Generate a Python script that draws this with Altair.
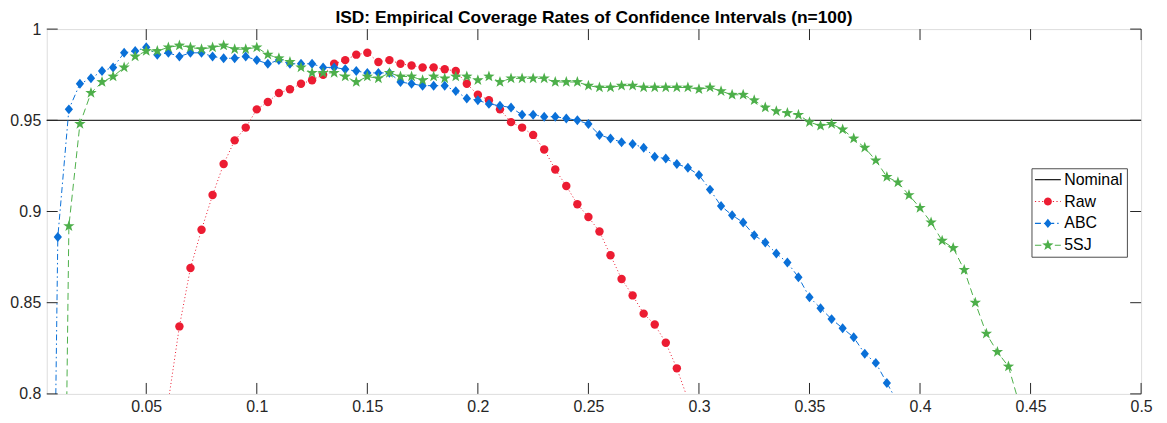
import math
import altair as alt
import pandas as pd

# ---------------- data ----------------
x_grid = [0.005, 0.01, 0.015, 0.02, 0.025, 0.03, 0.035, 0.04, 0.045, 0.05,
          0.055, 0.06, 0.065, 0.07, 0.075, 0.08, 0.085, 0.09, 0.095, 0.1,
          0.105, 0.11, 0.115, 0.12, 0.125, 0.13, 0.135, 0.14, 0.145, 0.15,
          0.155, 0.16, 0.165, 0.17, 0.175, 0.18, 0.185, 0.19, 0.195, 0.2,
          0.205, 0.21, 0.215, 0.22, 0.225, 0.23, 0.235, 0.24, 0.245, 0.25,
          0.255, 0.26, 0.265, 0.27, 0.275, 0.28, 0.285, 0.29, 0.295, 0.3,
          0.305, 0.31, 0.315, 0.32, 0.325, 0.33, 0.335, 0.34, 0.345, 0.35,
          0.355, 0.36, 0.365, 0.37, 0.375, 0.38, 0.385, 0.39, 0.395, 0.4,
          0.405, 0.41, 0.415, 0.42, 0.425, 0.43, 0.435, 0.44, 0.445]

raw_start = 0.06
raw_vals = [0.796, 0.837, 0.869, 0.890, 0.909, 0.926, 0.939, 0.946, 0.956, 0.960,
            0.965, 0.967, 0.970, 0.972, 0.975, 0.981, 0.983, 0.986, 0.987, 0.982,
            0.983, 0.981, 0.980, 0.979, 0.979, 0.978, 0.977, 0.970, 0.964, 0.961,
            0.956, 0.949, 0.946, 0.942, 0.934, 0.923, 0.914, 0.904, 0.897, 0.889,
            0.876, 0.863, 0.854, 0.844, 0.838, 0.828, 0.814, 0.797]

abc_start = 0.005
abc_vals = [0.41, 0.886, 0.956, 0.970, 0.973, 0.977, 0.979, 0.987, 0.988, 0.990,
            0.986, 0.987, 0.985, 0.987, 0.987, 0.985, 0.984, 0.984, 0.985, 0.983,
            0.981, 0.983, 0.981, 0.981, 0.981, 0.979, 0.979, 0.978, 0.977, 0.976,
            0.976, 0.976, 0.971, 0.970, 0.969, 0.969, 0.969, 0.966, 0.962, 0.961,
            0.959, 0.958, 0.957, 0.953, 0.953, 0.952, 0.952, 0.951, 0.950, 0.948,
            0.942, 0.940, 0.938, 0.937, 0.935, 0.930, 0.929, 0.926, 0.924, 0.920,
            0.912, 0.903, 0.898, 0.894, 0.887, 0.883, 0.877, 0.872, 0.864, 0.853,
            0.847, 0.841, 0.836, 0.831, 0.822, 0.817, 0.806, 0.795]

sj_start = 0.01
sj_vals = [0.39, 0.892, 0.948, 0.965, 0.971, 0.974, 0.979, 0.985, 0.988, 0.988,
           0.990, 0.991, 0.990, 0.989, 0.990, 0.991, 0.989, 0.989, 0.990, 0.986,
           0.984, 0.982, 0.979, 0.976, 0.976, 0.976, 0.974, 0.971, 0.974, 0.973,
           0.976, 0.974, 0.974, 0.972, 0.974, 0.973, 0.974, 0.974, 0.972, 0.974,
           0.971, 0.973, 0.973, 0.973, 0.973, 0.971, 0.971, 0.971, 0.969, 0.968,
           0.968, 0.969, 0.969, 0.968, 0.968, 0.968, 0.968, 0.968, 0.967, 0.968,
           0.966, 0.964, 0.964, 0.961, 0.957, 0.955, 0.954, 0.953, 0.949, 0.947,
           0.948, 0.945, 0.940, 0.935, 0.928, 0.919, 0.916, 0.909, 0.902, 0.894,
           0.884, 0.880, 0.868, 0.850, 0.833, 0.823, 0.815, 0.794]

nominal_level = 0.95
series_names = ["Nominal", "Raw", "ABC", "5SJ"]
x_ticks = [0.05, 0.1, 0.15, 0.2, 0.25, 0.3, 0.35, 0.4, 0.45, 0.5]
y_ticks = [0.8, 0.85, 0.9, 0.95, 1.0]
title_text = "ISD: Empirical Coverage Rates of Confidence Intervals (n=100)"


def make_df(start, vals):
    i0 = x_grid.index(start)
    xs = x_grid[i0:i0 + len(vals)]
    assert len(xs) == len(vals)
    return pd.DataFrame({"x": xs, "y": vals})


raw_df = make_df(raw_start, raw_vals)
abc_df = make_df(abc_start, abc_vals)
sj_df = make_df(sj_start, sj_vals)

# ---------------- styles ----------------
W, H = 1101, 367
RED, BLUE, GREEN = "#EC1C32", "#0A70D8", "#4DAF4A"
AX = "#262626"
FONT = "Liberation Sans"
TICK = 11

xs = alt.Scale(domain=[0.005, 0.5], nice=False, zero=False)
ys = alt.Scale(domain=[0.8, 1.0], nice=False, zero=False)


def star_path(cx=0.0, R=1.5, r=0.6):
    pts = []
    for k in range(10):
        a = math.radians(-90 + 36 * k)
        rad = R if k % 2 == 0 else r
        pts.append((cx + rad * math.cos(a), rad * math.sin(a)))
    return "M" + "L".join(f"{px:.3f},{py:.3f}" for px, py in pts) + "Z"


def diamond_path(cx=0.0, hw=0.95, hh=1.15):
    return f"M{cx},{-hh}L{cx + hw},0L{cx},{hh}L{cx - hw},0Z"


def circle_path(cx=0.0, r=1.0, n=20):
    pts = [(cx + r * math.cos(2 * math.pi * k / n), r * math.sin(2 * math.pi * k / n)) for k in range(n)]
    return "M" + "L".join(f"{px:.3f},{py:.3f}" for px, py in pts) + "Z"


# legend symbol = line segment (with dash pattern) + marker, unit = 4px
L0, L1, MC = -2.0, 4.5, 1.25
HW = 0.14


def line_pieces(pattern, gap_lo, gap_hi):
    out = []
    pos = L0
    k = 0
    while pos < L1:
        seg = pattern[k % len(pattern)]
        on = (k % 2 == 0)
        a, b = pos, min(pos + seg, L1)
        if on:
            for (s, e) in [(a, min(b, gap_lo)), (max(a, gap_hi), b)]:
                if e - s > 0.01:
                    out.append(f"M{s:.3f},{-HW}L{e:.3f},{-HW}L{e:.3f},{HW}L{s:.3f},{HW}Z")
        pos += seg
        k += 1
    return "".join(out)


leg_nominal = line_pieces([10, 0], 99, 99)
leg_raw = line_pieces([0.3, 0.6], MC - 0.9, MC + 0.9) + circle_path(MC, 1.0)
leg_abc = line_pieces([1.5, 0.75, 0.35, 0.75], MC - 0.9, MC + 0.9) + diamond_path(MC)
leg_sj = line_pieces([1.6, 0.9], MC - 1.2, MC + 1.2) + star_path(MC)

# ---------------- layers ----------------
x_enc = alt.X("x:Q", scale=xs,
              axis=alt.Axis(values=x_ticks, format="~g", title=None, grid=False, domain=False,
                            ticks=False, labelPadding=5, labelFontSize=16, labelFont=FONT,
                            labelColor=AX, labelFlush=False))
y_enc = alt.Y("y:Q", scale=ys,
              axis=alt.Axis(values=y_ticks, format="~g", title=None, grid=False, domain=False,
                            ticks=False, labelPadding=6, labelFontSize=16, labelFont=FONT,
                            labelColor=AX, labelFlush=False))


def series_layers(df, color, dash, shape, size):
    base = alt.Chart(df)
    line = base.mark_line(color=color, strokeWidth=1, strokeDash=dash, clip=True).encode(x=x_enc, y=y_enc)
    pts = base.mark_point(color=color, filled=True, opacity=1, shape=shape, size=size,
                          strokeWidth=0.5, clip=True).encode(x="x:Q", y="y:Q")
    return [line, pts]


nominal = alt.Chart(pd.DataFrame({"y": [nominal_level]})).mark_rule(color="black", strokeWidth=1).encode(
    y=alt.Y("y:Q", scale=ys))

layers = [nominal]
layers += series_layers(raw_df, RED, [1, 2.5], "circle", 72)
layers += series_layers(abc_df, BLUE, [6, 3, 1.5, 3], diamond_path(), 76)
layers += series_layers(sj_df, GREEN, [7, 4], star_path(), 64)

xt = pd.DataFrame({"x": x_ticks})
yt = pd.DataFrame({"y": y_ticks})
tick_layers = [
    alt.Chart(xt).mark_rule(color=AX, strokeWidth=1).encode(x=alt.X("x:Q", scale=xs), y=alt.value(H), y2=alt.value(H - TICK)),
    alt.Chart(xt).mark_rule(color=AX, strokeWidth=1).encode(x=alt.X("x:Q", scale=xs), y=alt.value(0), y2=alt.value(TICK)),
    alt.Chart(yt).mark_rule(color=AX, strokeWidth=1).encode(y=alt.Y("y:Q", scale=ys), x=alt.value(0), x2=alt.value(TICK)),
    alt.Chart(yt).mark_rule(color=AX, strokeWidth=1).encode(y=alt.Y("y:Q", scale=ys), x=alt.value(W), x2=alt.value(W - TICK)),
]

# title as a text mark placed above the plot frame
title_layer = alt.Chart(pd.DataFrame({"t": [title_text]})).mark_text(
    font=FONT, fontSize=17.5, fontWeight="bold", color="black", align="center", baseline="alphabetic"
).encode(text="t:N", x=alt.value(W / 2), y=alt.value(-6))

# invisible carrier (clipped away) for the legend
legend_df = pd.DataFrame({"series": series_names})
legend_layer = alt.Chart(legend_df).mark_point(filled=True, size=64, opacity=1, clip=True).encode(
    x=alt.value(-200), y=alt.value(-200),
    color=alt.Color("series:N", scale=alt.Scale(domain=series_names, range=["#000000", RED, BLUE, GREEN]),
                    legend=alt.Legend(title=None, orient="none", legendX=990.7, legendY=140,
                                      symbolOpacity=1, symbolStrokeWidth=0, symbolSize=64,
                                      labelFontSize=16, labelFont=FONT, labelColor="black",
                                      labelOffset=13.5, rowPadding=6, padding=3.5,
                                      strokeColor="#4d4d4d", fillColor="white")),
    shape=alt.Shape("series:N", scale=alt.Scale(domain=series_names, range=[leg_nominal, leg_raw, leg_abc, leg_sj]),
                    legend=alt.Legend(title=None, orient="none", legendX=990.7, legendY=140)),
)

chart = alt.layer(*layers, *tick_layers, title_layer, legend_layer).properties(
    width=W, height=H,
    autosize=alt.AutoSizeParams(type="none"),
    padding={"left": 39, "top": 20, "right": 18, "bottom": 20},
).configure_view(stroke="#4d4d4d", strokeWidth=1).configure(background="white")

chart.save("out.html", embed_options={"renderer": "svg", "actions": False})
